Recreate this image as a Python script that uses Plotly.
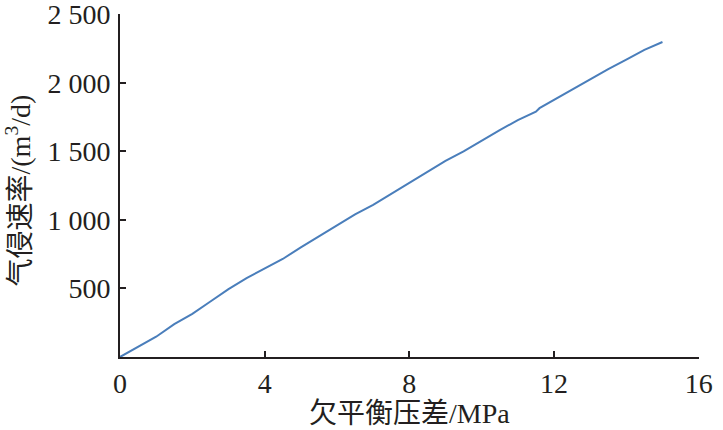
import plotly.graph_objects as go

pressure_diff = [0, 0.5, 1.0, 1.5, 2.0, 2.5, 3.0, 3.5, 4.0, 4.5, 5.0, 5.5, 6.0, 6.5, 7.0, 7.5,
                 7.9, 8.0, 8.5, 9.0, 9.5, 10.0, 10.5, 11.0, 11.5, 11.6, 12.0, 12.5, 13.0, 13.5,
                 14.0, 14.5, 15.0]
gas_rate = [0, 72, 148, 240, 315, 405, 495, 575, 645, 715, 800, 880, 960, 1040, 1110, 1190,
            1250, 1270, 1345, 1430, 1500, 1580, 1655, 1728, 1790, 1815, 1875, 1950, 2030, 2100,
            2170, 2240, 2298]

x_ticks = [0, 4, 8, 12, 16]
y_ticks = [500, 1000, 1500, 2000, 2500]
y_tick_text = ["500", "1 000", "1 500", "2 000", "2 500"]
x_title = "欠平衡压差/MPa"
y_title = "气侵速率/(m<sup>3</sup>/d)"

fig = go.Figure()
fig.add_trace(go.Scatter(x=pressure_diff, y=gas_rate, mode="lines",
                         line=dict(color="#4a7ebb", width=2), showlegend=False))

ink = "#231f20"
axis_font = dict(family="Liberation Serif, Times New Roman, serif", size=28, color=ink)
title_font = dict(family="Liberation Serif, Noto Sans CJK SC, serif", size=28, color=ink)

fig.update_layout(
    width=723, height=430,
    margin=dict(l=120, r=24, t=14, b=73, autoexpand=False),
    plot_bgcolor="white", paper_bgcolor="white",
    xaxis=dict(range=[0, 16.01], tickvals=x_ticks, ticktext=[str(v) for v in x_ticks],
               ticks="inside", ticklen=6, tickwidth=2, tickcolor=ink,
               showline=True, linecolor=ink, linewidth=2, showgrid=False, zeroline=False,
               tickfont=axis_font, ticklabelstandoff=0, automargin=False,
               ticklabeloverflow="allow"),
    yaxis=dict(range=[0, 2502], tickvals=y_ticks, ticktext=y_tick_text,
               ticks="inside", ticklen=6, tickwidth=2, tickcolor=ink,
               showline=True, linecolor=ink, linewidth=2, showgrid=False, zeroline=False,
               tickfont=axis_font, ticklabelstandoff=2, automargin=False,
               ticklabeloverflow="allow"),
    annotations=[
        dict(text=x_title, xref="paper", yref="paper", x=0.5, y=0, yshift=-56,
             xanchor="center", yanchor="middle", showarrow=False, font=title_font),
        dict(text=y_title, xref="paper", yref="paper", x=0, y=0.5, xshift=-101, yshift=-5,
             xanchor="center", yanchor="middle", textangle=-90, showarrow=False, font=title_font),
    ],
)

fig.write_html("out.html", config={"displayModeBar": False},
               post_script="document.body.style.margin='0';document.body.style.padding='0';")
